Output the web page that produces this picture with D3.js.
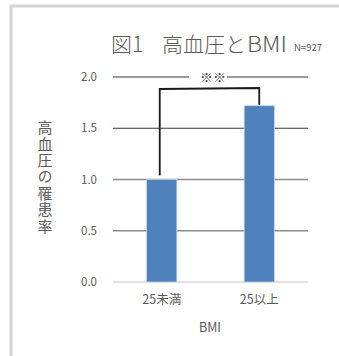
<!DOCTYPE html>
<html>
<head>
<meta charset="utf-8">
<script src="https://cdn.jsdelivr.net/npm/d3@7"></script>
<style>
  html, body { margin: 0; padding: 0; background: #fff; }
  svg { display: block; }
  text { font-family: "Noto Sans CJK JP", "Noto Sans", sans-serif; fill: #595959; }
</style>
</head>
<body>
<svg id="chart" width="339" height="356"></svg>
<script>
// BMI groups and relative prevalence of hypertension
const categories = ["25未満", "25以上"];
const values = [1.0, 1.72];
const yTicks = [0, 0.5, 1.0, 1.5, 2.0];
const titleParts = ["図1", "高血圧と", "BMI"];
const sampleText = "N=927";
const yTitle = "高血圧の罹患率";
const xTitle = "BMI";
const sigMark = "※※";

const svg = d3.select("#chart");

// outer frame of the chart area
svg.append("rect")
  .attr("x", 11).attr("y", 6)
  .attr("width", 340).attr("height", 360)
  .attr("fill", "#fff")
  .attr("stroke", "#d4d4d4").attr("stroke-width", 3);

const plot = { left: 113, right: 308, top: 77, bottom: 282 };

const x = d3.scaleBand()
  .domain(categories)
  .range([plot.left, plot.right])
  .paddingInner(0.69).paddingOuter(0.345);

const y = d3.scaleLinear()
  .domain([0, 2])
  .range([plot.bottom, plot.top]);

// horizontal gridlines
const grid = svg.append("g");
yTicks.filter(t => t > 0).forEach(t => {
  const dark = t >= 1.5;
  const color = dark ? "#3a3a3a" : "#8c8c8c";
  if (t === 2.0) {
    grid.append("line")
      .attr("x1", plot.left).attr("x2", 189)
      .attr("y1", y(t)).attr("y2", y(t))
      .attr("stroke", color).attr("stroke-width", 1.2);
    grid.append("line")
      .attr("x1", 227).attr("x2", plot.right)
      .attr("y1", y(t)).attr("y2", y(t))
      .attr("stroke", color).attr("stroke-width", 1.2);
  } else {
    grid.append("line")
      .attr("x1", plot.left).attr("x2", plot.right)
      .attr("y1", y(t)).attr("y2", y(t))
      .attr("stroke", color).attr("stroke-width", dark ? 1.2 : 1.3);
  }
});

// baseline
svg.append("line")
  .attr("x1", plot.left).attr("x2", plot.right)
  .attr("y1", y(0)).attr("y2", y(0))
  .attr("stroke", "#d9d9d9").attr("stroke-width", 1.5);

// bars
svg.append("g").selectAll("rect")
  .data(values)
  .join("rect")
  .attr("x", (d, i) => x(categories[i]))
  .attr("y", d => y(d))
  .attr("width", x.bandwidth())
  .attr("height", d => y(0) - y(d))
  .attr("fill", "#4f81bd")
  .attr("stroke", "#c5d5ea").attr("stroke-width", 0.8);

// y tick labels
svg.append("g").selectAll("text")
  .data(yTicks)
  .join("text")
  .attr("x", 97)
  .attr("y", d => y(d))
  .attr("dy", "0.35em")
  .attr("text-anchor", "end")
  .attr("font-size", 11.5)
  .text(d => d.toFixed(1));

// x category labels
svg.append("g").selectAll("text")
  .data(categories)
  .join("text")
  .attr("x", d => x(d) + x.bandwidth() / 2)
  .attr("y", 304)
  .attr("text-anchor", "middle")
  .attr("font-size", 12.5)
  .text(d => d);

// axis titles
svg.append("text")
  .attr("x", 210).attr("y", 332)
  .attr("text-anchor", "middle")
  .attr("font-size", 12.5)
  .text(xTitle);

svg.append("text")
  .attr("x", 45).attr("y", 120)
  .attr("font-size", 15)
  .attr("writing-mode", "vertical-rl")
  .attr("text-anchor", "start")
  .style("letter-spacing", "1.4px")
  .text(yTitle);

// title, set in three runs
const titleX = [111, 162, 247];
const title = svg.append("text")
  .attr("y", 52)
  .attr("font-size", 21)
  .attr("font-weight", 300);
titleParts.forEach((p, i) => {
  const span = title.append("tspan").attr("x", titleX[i]).text(p);
  if (i === 2) span.attr("textLength", 40).attr("lengthAdjust", "spacingAndGlyphs");
});
svg.append("text")
  .attr("x", 294).attr("y", 51)
  .attr("font-size", 9.5)
  .text(sampleText);

// significance bracket between the two bars
const c0 = x(categories[0]) + x.bandwidth() / 2 - 2;
const c1 = x(categories[1]) + x.bandwidth() / 2;
const bracketY = y(2) + 12;
svg.append("path")
  .attr("d", `M${c0},${y(values[0]) - 4} L${c0},${bracketY} L${c1},${bracketY - 1} L${c1},${y(values[1]) - 1}`)
  .attr("fill", "none")
  .attr("stroke", "#1a1a1a").attr("stroke-width", 1.8);

svg.append("text")
  .attr("x", 213).attr("y", y(2))
  .attr("dy", "0.36em")
  .attr("text-anchor", "middle")
  .attr("font-size", 13)
  .style("fill", "#444")
  .text(sigMark);
</script>
</body>
</html>
